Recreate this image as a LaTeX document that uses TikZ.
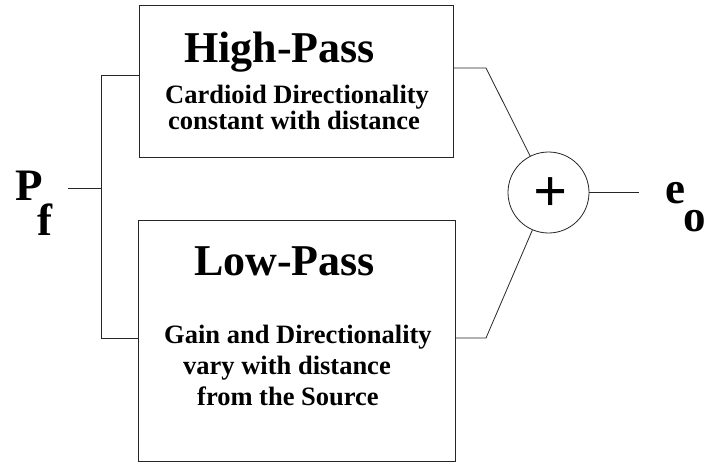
\documentclass[tikz,border=0pt]{standalone}
\usepackage{fontspec}
\setmainfont{Liberation Serif}
\begin{document}
\begin{tikzpicture}[x=1pt,y=-1pt,
  wire/.style={line width=0.8pt,draw=black!85},
  blockbox/.style={draw=black!85,line width=0.8pt,rectangle,inner sep=0pt},
  bigtxt/.style={inner sep=0pt,anchor=base west,font=\fontsize{44}{44}\selectfont\bfseries},
  smalltxt/.style={inner sep=0pt,anchor=base west,font=\fontsize{26.5}{26.5}\selectfont\bfseries},
  symtxt/.style={inner sep=0pt,anchor=base west,font=\fontsize{45}{45}\selectfont\bfseries}]
\useasboundingbox (0,0) rectangle (707,464);
% blocks
\node[blockbox,minimum width=314pt,minimum height=152pt] (hp) at (296,81) {};
\node[blockbox,minimum width=317pt,minimum height=241pt] (lp) at (296.5,340.5) {};
\node[draw=black!85,line width=0.8pt,circle,minimum size=81pt,inner sep=0pt] (sum) at (548.5,192.5) {};
\node[inner sep=0pt,font=\fontsize{60}{60}\selectfont\bfseries] (plus) at (551,195) {+};
% texts
\node[bigtxt] (hpt) at (184,62) {High-Pass};
\node[smalltxt] (hp1) at (165,103) {Cardioid Directionality};
\node[smalltxt] (hp2) at (168,129) {constant with distance};
\node[bigtxt] (lpt) at (194,275) {Low-Pass};
\node[smalltxt] (lp1) at (164,343) {Gain and Directionality};
\node[smalltxt] (lp2) at (183,374) {vary with distance};
\node[smalltxt] (lp3) at (197,405) {from the Source};
\node[symtxt] (P) at (15,200) {P};
\node[symtxt] (f) at (37,235) {f};
\node[symtxt] (e) at (665,203) {e};
\node[symtxt] (o) at (683,231) {o};
% connector points
\coordinate (pin) at (68,188);
\coordinate (split) at (101,188);
\coordinate (s1) at (101,75);
\coordinate (s2) at (101,338);
\coordinate (h1) at (486,68);
\coordinate (l1) at (486,338);
\coordinate (out) at (639,192.5);
% connectors
\draw[wire] (pin) -- (split);
\draw[wire] (s1 -| hp.west) -- (s1) -- (s2) -- (s2 -| lp.west);
\draw[wire] (h1 -| hp.east) -- (h1) -- (sum);
\draw[wire] (l1 -| lp.east) -- (l1) -- (sum);
\draw[wire] (sum.east) -- (out);
\end{tikzpicture}
\end{document}
